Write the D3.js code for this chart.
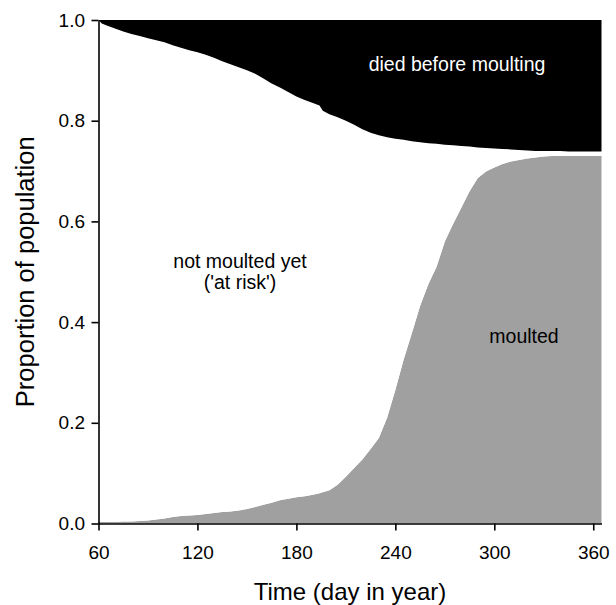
<!DOCTYPE html>
<html>
<head>
<meta charset="utf-8">
<script src="https://cdn.jsdelivr.net/npm/d3@7"></script>
<style>
  html, body { margin: 0; padding: 0; background: #fff; }
  svg { display: block; font-family: "Liberation Sans", Arial, sans-serif; }
</style>
</head>
<body>
<svg id="chart" width="616" height="605"></svg>
<script>
// Day in year
const days = [60, 62, 65, 70, 75, 80, 85, 90, 95, 100, 105, 110, 115, 120, 125, 130, 135, 140, 145, 150,
  155, 160, 165, 170, 175, 180, 185, 190, 194, 196, 200, 205, 210, 215, 220, 225, 230, 235, 240, 245,
  250, 255, 260, 265, 270, 275, 280, 285, 290, 295, 300, 305, 310, 315, 320, 325, 330, 335, 340, 345,
  350, 355, 360, 365];
// Cumulative proportion moulted
const moulted = [0.003, 0.003, 0.003, 0.003, 0.004, 0.004, 0.005, 0.006, 0.008, 0.010, 0.013, 0.015, 0.016, 0.017, 0.019, 0.021, 0.023, 0.024, 0.026, 0.029,
  0.033, 0.037, 0.041, 0.046, 0.049, 0.052, 0.054, 0.057, 0.060, 0.062, 0.066, 0.077, 0.093, 0.110, 0.127, 0.148, 0.170, 0.210, 0.265, 0.325,
  0.378, 0.432, 0.475, 0.510, 0.560, 0.595, 0.627, 0.660, 0.686, 0.699, 0.707, 0.714, 0.719, 0.722, 0.725, 0.727, 0.729, 0.730, 0.730, 0.730,
  0.730, 0.730, 0.730, 0.730];
// Proportion not dead before moulting (moulted + at risk)
const alive = [1.000, 0.993, 0.989, 0.983, 0.977, 0.972, 0.968, 0.964, 0.960, 0.956, 0.950, 0.945, 0.940, 0.936, 0.931, 0.925, 0.918, 0.912, 0.906, 0.900,
  0.893, 0.884, 0.874, 0.866, 0.857, 0.848, 0.841, 0.835, 0.830, 0.820, 0.813, 0.807, 0.800, 0.792, 0.783, 0.776, 0.771, 0.767, 0.764, 0.762,
  0.759, 0.757, 0.755, 0.754, 0.752, 0.751, 0.750, 0.749, 0.747, 0.746, 0.745, 0.744, 0.743, 0.742, 0.741, 0.740, 0.740, 0.740, 0.740, 0.739,
  0.739, 0.739, 0.739, 0.739];

const xTicks = [60, 120, 180, 240, 300, 360];
const yTicks = [0, 0.2, 0.4, 0.6, 0.8, 1.0];
const keys = ["moulted", "atRisk", "died"];
const colors = { moulted: "#a0a0a0", atRisk: "#ffffff", died: "#000000" };

const table = days.map((d, i) => ({
  day: d,
  moulted: moulted[i],
  atRisk: alive[i] - moulted[i],
  died: 1 - alive[i]
}));

const svg = d3.select("#chart");
const x = d3.scaleLinear().domain([60, 365]).range([98.5, 601.5]);
const y = d3.scaleLinear().domain([0, 1]).range([523.5, 20]);

const series = d3.stack().keys(keys)(table);
const area = d3.area()
  .x(d => x(d.data.day))
  .y0(d => y(d[0]))
  .y1(d => y(d[1]));

svg.append("g").selectAll("path")
  .data(series)
  .join("path")
  .attr("fill", d => colors[d.key])
  .attr("stroke", "none")
  .attr("d", area);

// Axes
const xAxis = svg.append("g")
  .attr("transform", `translate(0,${y(0)})`)
  .call(d3.axisBottom(x).tickValues(xTicks).tickSize(7).tickSizeOuter(0).tickFormat(d3.format("d")));
const yAxis = svg.append("g")
  .attr("transform", `translate(${x(60)},0)`)
  .call(d3.axisLeft(y).tickValues(yTicks).tickSize(7).tickSizeOuter(0).tickPadding(6.5).tickFormat(d3.format(".1f")));

[xAxis, yAxis].forEach(g => {
  g.select(".domain").attr("stroke", "#000").attr("stroke-width", 1.6);
  g.selectAll(".tick line").attr("stroke", "#000").attr("stroke-width", 1.6);
  g.selectAll(".tick text").attr("fill", "#000").style("font-size", "19px")
    .style("font-family", '"Liberation Sans", Arial, sans-serif');
});
xAxis.selectAll(".tick text").attr("y", 35.5).attr("dy", 0);

// Axis titles
svg.append("text")
  .attr("x", 350).attr("y", 600)
  .attr("text-anchor", "middle")
  .style("font-size", "24px")
  .text("Time (day in year)");
svg.append("text")
  .attr("transform", `translate(34,${(y(0) + y(1)) / 2}) rotate(-90)`)
  .attr("text-anchor", "middle")
  .style("font-size", "25.5px")
  .text("Proportion of population");

// Region labels
svg.append("text")
  .attr("x", 457).attr("y", 71)
  .attr("text-anchor", "middle").attr("fill", "#fff")
  .style("font-size", "19.5px")
  .text("died before moulting");
svg.append("text")
  .attr("x", 240).attr("y", 268)
  .attr("text-anchor", "middle").attr("fill", "#000")
  .style("font-size", "19.5px")
  .text("not moulted yet");
svg.append("text")
  .attr("x", 240).attr("y", 289)
  .attr("text-anchor", "middle").attr("fill", "#000")
  .style("font-size", "19.5px")
  .text("('at risk')");
svg.append("text")
  .attr("x", 524).attr("y", 343)
  .attr("text-anchor", "middle").attr("fill", "#000")
  .style("font-size", "19.5px")
  .text("moulted");
</script>
</body>
</html>
